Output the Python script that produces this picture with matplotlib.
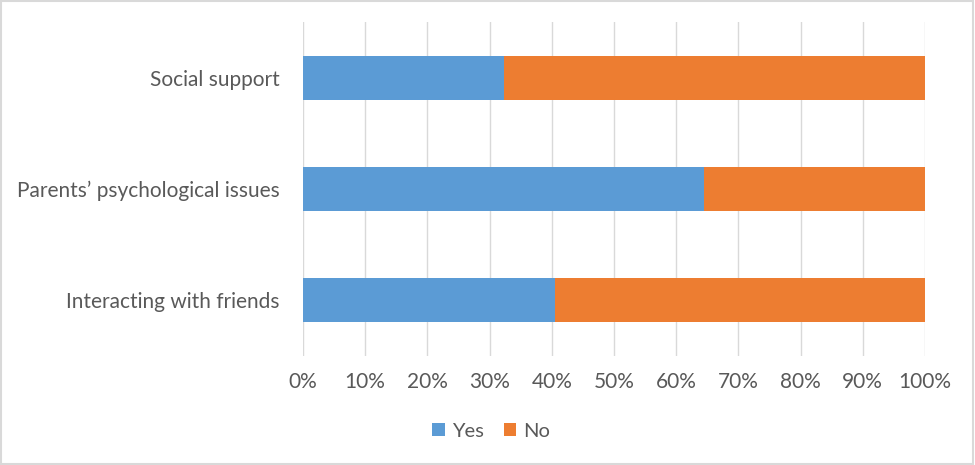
import matplotlib.pyplot as plt
from matplotlib.patches import Rectangle

# datos (porcentaje de "Yes")
categorias = ["Interacting with friends", "Parents\u2019 psychological issues", "Social support"]
si = [40.5, 64.5, 32.3]
no = [100 - v for v in si]
ticks = list(range(0, 101, 10))

plt.rcParams['font.family'] = ['Lato', 'DejaVu Sans']

fig = plt.figure(figsize=(9.75, 4.65), dpi=100)
ax = fig.add_axes([303/975, 1 - 355.5/465, 622/975, 333/465])

y = range(len(categorias))
ax.barh(y, si, height=0.4, color="#5B9BD5", label="Yes", zorder=3)
ax.barh(y, no, left=si, height=0.4, color="#ED7D31", label="No", zorder=3)

ax.set_xlim(0, 100)
ax.set_ylim(-0.5, 2.5)
ax.set_xticks(ticks)
ax.set_xticklabels([f"{t}%" for t in ticks])
ax.set_yticks(list(y))
ax.set_yticklabels(categorias)
ax.tick_params(length=0, labelsize=15, colors="#595959")
ax.tick_params(axis="x", pad=12)
ax.tick_params(axis="y", pad=17)
ax.grid(axis="x", color="#D9D9D9", linewidth=1, zorder=0)
for s in ax.spines.values():
    s.set_visible(False)

fig.legend(loc="center", bbox_to_anchor=(491/975, 1 - 431/465), ncol=2, frameon=False,
           fontsize=14.5, labelcolor="#595959", handlelength=0.6, handleheight=0.6,
           handletextpad=0.35, columnspacing=1.0)

# borde del grafico
fig.patches.append(Rectangle((0.001, 0.002), 0.997, 0.996, transform=fig.transFigure,
                             fill=False, edgecolor="#D9D9D9", linewidth=1.5))

fig.savefig("out.png", dpi=100)
